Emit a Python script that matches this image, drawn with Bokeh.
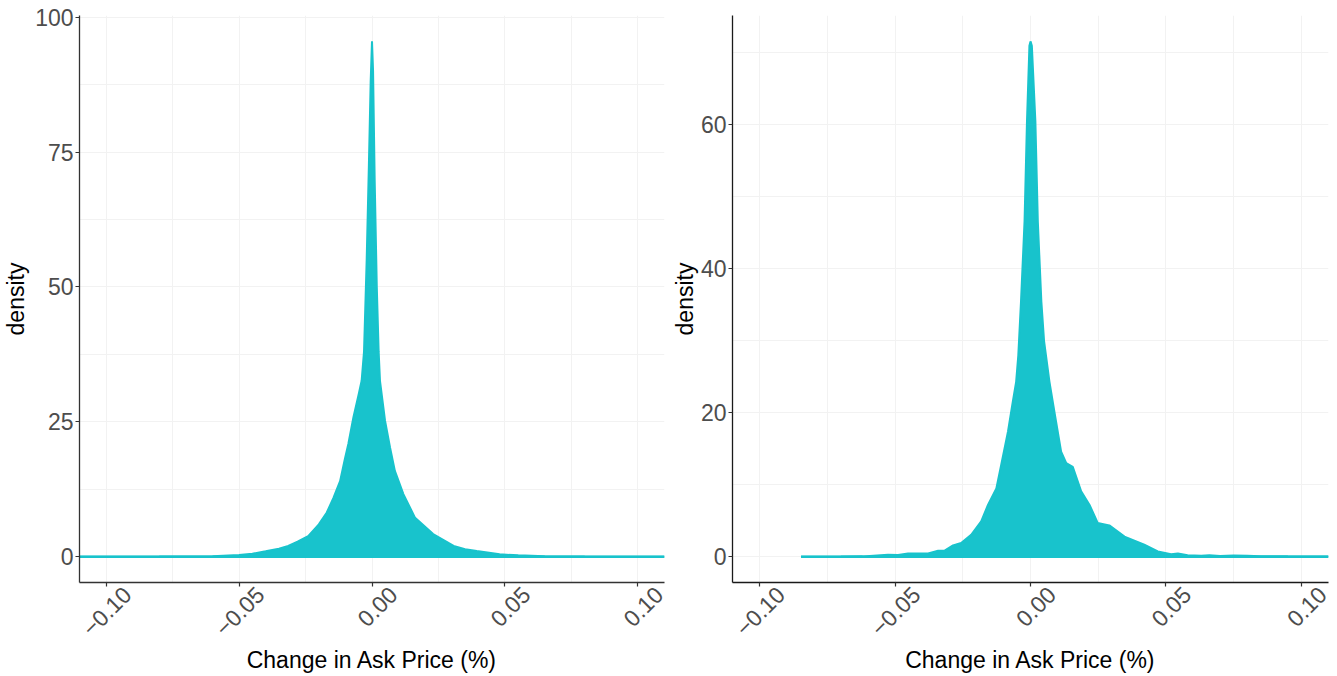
import math
from bokeh.plotting import figure
from bokeh.layouts import row
from bokeh.models import FixedTicker, LinearAxis, Range1d
from bokeh.embed import file_html
from bokeh.resources import INLINE

# ---- data (density estimates) ----
left_x = [-0.110, -0.080, -0.060, -0.050, -0.045, -0.040, -0.035, -0.0315, -0.028, -0.024,
          -0.020, -0.017, -0.0145, -0.012, -0.0102, -0.0089, -0.007, -0.005, -0.0039, -0.003,
          -0.002, -0.0012, -0.0005, 0.0, 0.0004, 0.001, 0.0018, 0.0025, 0.003, 0.0049,
          0.0068, 0.0086, 0.0118, 0.0162, 0.023, 0.0307, 0.035, 0.0394, 0.048, 0.055,
          0.065, 0.080, 0.110]
left_y = [0.0, 0.02, 0.1, 0.3, 0.55, 1.0, 1.5, 2.0, 2.8, 3.8,
          6.0, 8.2, 10.9, 14.0, 18.1, 20.9, 25.8, 30.1, 32.6, 38.0,
          55.0, 72.0, 88.0, 95.5, 90.0, 70.0, 50.0, 38.0, 32.6, 25.2,
          20.2, 15.9, 11.6, 7.2, 4.2, 2.0, 1.4, 1.06, 0.45, 0.25,
          0.1, 0.03, 0.0]

right_x = [-0.0847, -0.070, -0.062, -0.0526, -0.0489, -0.0452, -0.0378, -0.0341, -0.0317, -0.0286,
           -0.0256, -0.0219, -0.0182, -0.0157, -0.0126, -0.0108, -0.0083, -0.0065, -0.0053, -0.0045,
           -0.0035, -0.0022, -0.0013, -0.0004, 0.0, 0.0005, 0.0018, 0.0027, 0.0040, 0.0050,
           0.0070, 0.0088, 0.0113, 0.0132, 0.0156, 0.0187, 0.0218, 0.0248, 0.0291, 0.0347,
           0.042, 0.047, 0.0519, 0.0544, 0.058, 0.063, 0.066, 0.070, 0.075, 0.080,
           0.085, 0.095, 0.110]
right_y = [0.0, 0.02, 0.05, 0.28, 0.25, 0.46, 0.46, 0.83, 0.85, 1.57,
           1.9, 3.05, 4.9, 7.2, 9.5, 12.8, 17.4, 21.6, 24.3, 28.0,
           35.5, 46.6, 60.5, 71.0, 71.6, 71.0, 60.5, 46.6, 35.5, 30.0,
           24.3, 20.2, 14.6, 13.0, 12.5, 9.1, 7.2, 4.7, 4.35, 2.8,
           1.67, 0.74, 0.36, 0.46, 0.2, 0.12, 0.22, 0.1, 0.18, 0.15,
           0.08, 0.05, 0.02]

x_ticks = [-0.10, -0.05, 0.0, 0.05, 0.10]
x_minor = [-0.075, -0.025, 0.025, 0.075]
x_tick_labels = ["\u22120.10", "\u22120.05", "0.00", "0.05", "0.10"]
left_y_ticks = [0, 25, 50, 75, 100]
left_y_minor = [12.5, 37.5, 62.5, 87.5]
right_y_ticks = [0, 20, 40, 60]
right_y_minor = [10, 30, 50, 70]
x_title = "Change in Ask Price (%)"
y_title = "density"

FILL = "#18C3CC"
GRID = "#F2F2F2"
FONT = "Liberation Sans"
TICK_FS = "23px"
TITLE_FS = "23px"
X_RANGE = (-0.11, 0.11)
FIG_H = 676
LABEL_SHIFT_PX = 21    # rotated labels are centred under their tick


def style_axis(ax, axis_color):
    ax.axis_line_color = axis_color
    ax.axis_line_width = 1.3
    ax.major_tick_line_color = "#333333"
    ax.major_tick_line_width = 1.2
    ax.major_tick_out = 4
    ax.major_tick_in = 0
    ax.minor_tick_line_color = None
    ax.major_label_text_font = FONT
    ax.major_label_text_font_size = TICK_FS
    ax.major_label_text_color = "#4D4D4D"
    ax.axis_label_text_font = FONT
    ax.axis_label_text_font_size = TITLE_FS
    ax.axis_label_text_font_style = "normal"
    ax.axis_label_text_color = "black"


def make_panel(xs, ys, y_ticks, y_minor, y_range, width, mbl, mbr, axis_color, ylab_standoff):
    frame_w = width - mbl - mbr
    p = figure(width=width, height=FIG_H, x_range=X_RANGE, y_range=y_range,
               output_backend="svg", toolbar_location=None,
               min_border_left=mbl, min_border_right=mbr,
               min_border_top=15, min_border_bottom=94)
    p.outline_line_color = None
    p.background_fill_color = "white"
    p.border_fill_color = "white"

    p.xaxis.ticker = FixedTicker(ticks=x_ticks, minor_ticks=x_minor)
    p.yaxis.ticker = FixedTicker(ticks=y_ticks, minor_ticks=y_minor)

    for g in (p.xgrid, p.ygrid):
        g.grid_line_color = GRID
        g.grid_line_width = 1
        g.minor_grid_line_color = GRID
        g.minor_grid_line_width = 1

    style_axis(p.xaxis[0], axis_color)
    style_axis(p.yaxis[0], axis_color)
    p.yaxis.axis_label = y_title
    p.yaxis.major_label_standoff = 2
    p.yaxis.axis_label_standoff = ylab_standoff

    # primary x axis: line and ticks only
    p.xaxis.major_label_overrides = {t: "" for t in x_ticks}
    p.xaxis.major_label_text_font_size = "0px"
    p.xaxis.major_label_standoff = 0

    # second x axis carrying the rotated labels, shifted so each label is centred on its tick
    d = LABEL_SHIFT_PX * (X_RANGE[1] - X_RANGE[0]) / frame_w
    p.extra_x_ranges = {"labels": Range1d(X_RANGE[0] - d, X_RANGE[1] - d)}
    lab_axis = LinearAxis(x_range_name="labels", ticker=FixedTicker(ticks=x_ticks))
    style_axis(lab_axis, None)
    lab_axis.major_tick_line_color = None
    lab_axis.major_tick_out = 0
    lab_axis.major_label_overrides = dict(zip(x_ticks, x_tick_labels))
    lab_axis.major_label_orientation = math.pi / 4
    lab_axis.major_label_standoff = 4
    lab_axis.axis_label = x_title
    lab_axis.axis_label_standoff = 0
    p.add_layout(lab_axis, "below")

    p.varea(x=xs, y1=[0] * len(xs), y2=ys, fill_color=FILL)
    p.line(x=xs, y=ys, line_color=FILL, line_width=2)
    p.line(x=[xs[0], xs[-1]], y=[0, 0], line_color=FILL, line_width=2.5)
    return p


left = make_panel(left_x, left_y, left_y_ticks, left_y_minor, (-4.78, 100.3),
                  668, 79, 4, "#333333", 3)
right = make_panel(right_x, right_y, right_y_ticks, right_y_minor, (-3.58, 75.2),
                   669, 63, 9, "#1a1a1a", 0)

layout = row(left, right)
open("out.html", "w").write(file_html(layout, INLINE))
